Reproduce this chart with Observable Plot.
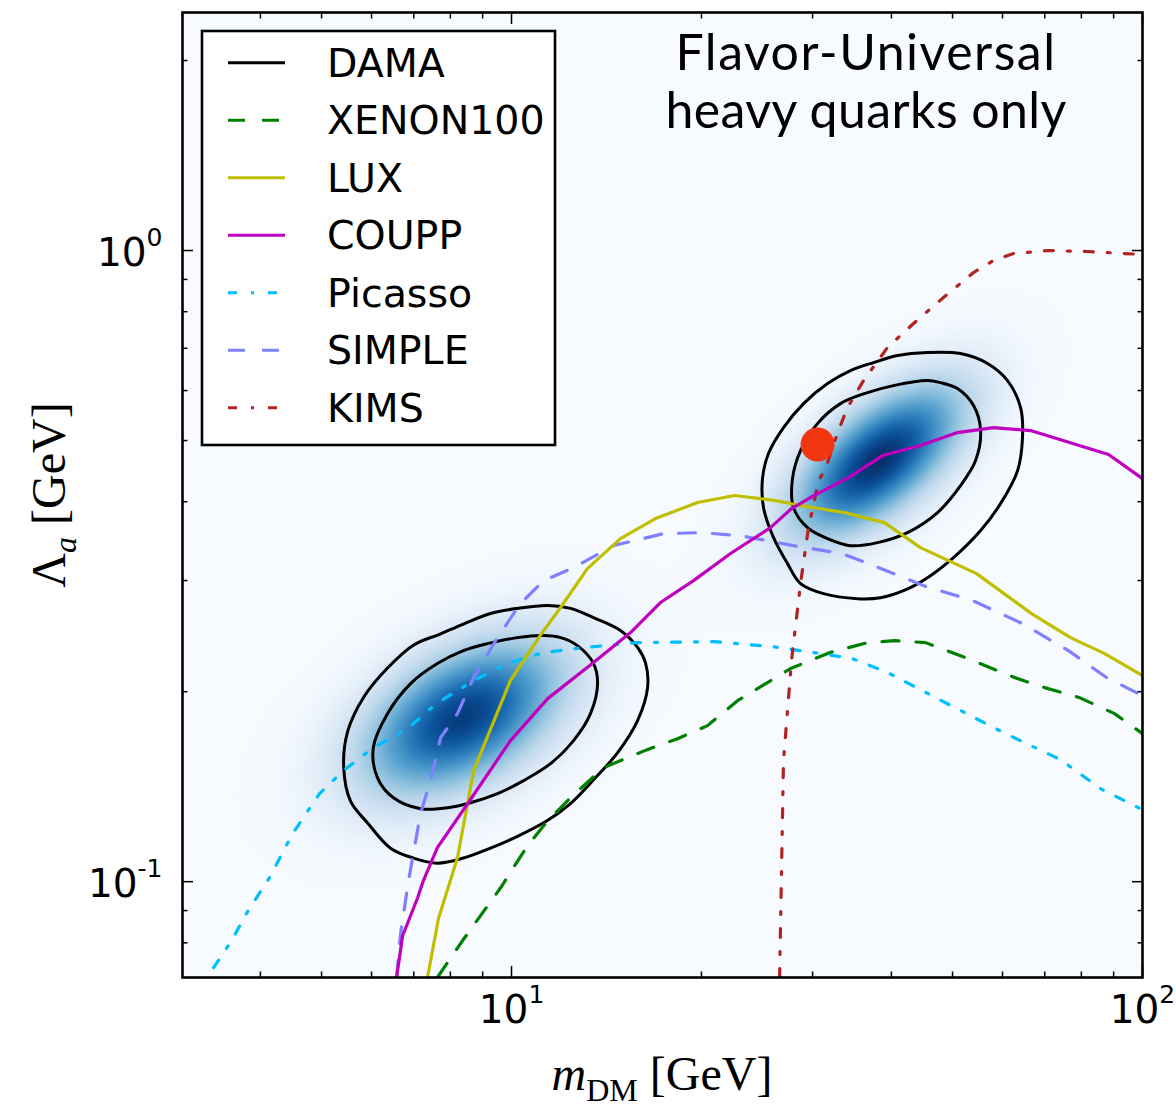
<!DOCTYPE html>
<html><head><meta charset="utf-8">
<script src="https://cdn.jsdelivr.net/npm/d3@7"></script>
<script src="https://cdn.jsdelivr.net/npm/@observablehq/plot@0.6"></script>
<style>
body{margin:0;background:#fff;}
#wrap{position:relative;width:1176px;height:1107px;overflow:hidden;}
#wrap svg{position:absolute;left:0;top:0;}
</style></head><body><div id="wrap"></div>
<script>
// ---- axes ----
const xDomain = [3.01, 100];
const yDomain = [0.0705, 2.383];
const xMajor = [10, 100];
const xMinor = [4, 5, 6, 7, 8, 9, 20, 30, 40, 50, 60, 70, 80, 90];
const yMajor = [0.1, 1];
const yMinor = [0.08, 0.09, 0.2, 0.3, 0.4, 0.5, 0.6, 0.7, 0.8, 0.9, 2];
const xTickLabels = ["10^1", "10^2"];
const yTickLabels = ["10^-1", "10^0"];

// ---- limit curves [m_DM (GeV), Lambda_a (GeV)] ----
const xenon100 = [[7.63,0.0705],[8.36,0.0806],[9.61,0.0978],[10.6,0.114],[11.41,0.1249],[12.4,0.1358],[13.99,0.1516],[16.25,0.1613],[18.33,0.1685],[20.45,0.1767],[22.81,0.1935],[27.68,0.2176],[31.92,0.2306],[36.66,0.2392],[40.46,0.2409],[45.3,0.2392],[51.47,0.2281],[62.68,0.2106],[69.94,0.2030],[79.47,0.1957],[90.3,0.1846],[100,0.1716]];
const lux = [[7.36,0.0705],[7.66,0.0874],[8.0,0.1004],[8.21,0.1091],[8.71,0.150],[9.96,0.2083],[11.1,0.2454],[11.96,0.2719],[13.19,0.3133],[14.88,0.3496],[16.91,0.3761],[19.72,0.3988],[22.57,0.4091],[26.21,0.4016],[28.71,0.3944],[33.71,0.3844],[39.0,0.3706],[44.48,0.3383],[54.58,0.3077],[66.7,0.2659],[76.9,0.2436],[87.1,0.2298],[100,0.2121]];
const coupp = [[6.574,0.0705],[6.72,0.0821],[7.10,0.0943],[7.25,0.1004],[7.63,0.1132],[8.52,0.1329],[9.96,0.1673],[11.41,0.195],[13.49,0.2224],[15.44,0.2481],[17.22,0.2769],[19.43,0.2999],[22.24,0.3311],[25.73,0.3639],[27.78,0.3901],[29.77,0.4061],[34.2,0.4368],[38.73,0.4733],[44.48,0.4909],[50.9,0.5147],[58.06,0.5242],[66.45,0.5185],[88.35,0.4751],[100,0.4351]];
const picasso = [[3.372,0.0731],[3.60,0.0806],[3.80,0.089],[4.135,0.1015],[4.497,0.1191],[4.963,0.1379],[5.417,0.150],[6.044,0.1631],[6.843,0.1748],[7.63,0.1921],[8.71,0.2083],[9.85,0.2216],[11.24,0.2306],[13.0,0.2349],[15.84,0.2392],[20.97,0.2401],[25.82,0.2358],[30.99,0.2298],[34.7,0.2256],[39.44,0.2145],[48.73,0.1921],[60.66,0.1716],[74.14,0.1561],[85.8,0.1404],[100,0.13]];
const simple = [[6.574,0.0705],[6.67,0.0827],[6.868,0.1004],[7.175,0.1282],[7.44,0.1446],[7.72,0.1691],[8.21,0.1846],[8.71,0.2106],[9.50,0.2436],[10.33,0.2758],[11.24,0.2999],[12.54,0.3145],[14.5,0.3407],[17.41,0.356],[19.93,0.3573],[23.06,0.3534],[27.98,0.3407],[33.34,0.3311],[37.48,0.3168],[44.97,0.2945],[53.79,0.2789],[64.54,0.2563],[76.33,0.2323],[87.7,0.2106],[100,0.1971]];
const kims = [[26.6,0.0705],[26.98,0.1555],[27.78,0.224],[28.71,0.2967],[29.56,0.3639],[30.66,0.4319],[31.46,0.4513],[32.87,0.5147],[34.08,0.5639],[36.13,0.6223],[39.44,0.7022],[43.36,0.7662],[48.37,0.8425],[53.98,0.9229],[58.06,0.9642],[62.45,0.989],[70.7,1.0],[81.8,0.9964],[100,0.9855]];

// ---- DAMA regions (contours) ----
const damaLowOuter = [[11.4,0.274],[10.22,0.271],[9.26,0.266],[8.39,0.256],[7.72,0.247],[6.99,0.237],[6.36,0.218],[5.83,0.196],[5.50,0.173],[5.42,0.152],[5.56,0.134],[5.91,0.124],[6.43,0.113],[6.99,0.109],[7.63,0.107],[8.39,0.109],[9.26,0.113],[10.22,0.118],[11.4,0.125],[12.4,0.133],[13.49,0.145],[14.72,0.160],[15.84,0.180],[16.43,0.203],[16.31,0.222],[15.84,0.235],[14.88,0.250],[13.49,0.262],[12.4,0.271]];
const damaLowInner = [[11.24,0.2454],[10.22,0.2436],[9.16,0.2383],[8.39,0.2323],[7.63,0.2216],[6.92,0.206],[6.36,0.1846],[6.04,0.1631],[6.13,0.1462],[6.50,0.1358],[7.175,0.1305],[7.92,0.131],[8.61,0.1334],[9.50,0.1379],[10.45,0.1446],[11.53,0.1538],[12.54,0.1673],[13.34,0.1846],[13.69,0.206],[13.49,0.2216],[12.72,0.2366],[11.96,0.2436]];
const damaHighInner = [[45.63,0.6223],[40.31,0.6109],[36.66,0.5956],[33.21,0.5721],[30.54,0.5318],[28.71,0.482],[27.88,0.4351],[27.98,0.3915],[29.45,0.3639],[31.68,0.3496],[34.45,0.3407],[38.02,0.3445],[42.42,0.3573],[47.33,0.3844],[51.47,0.4242],[54.38,0.4648],[55.39,0.5185],[53.98,0.568],[50.9,0.6044],[47.85,0.6176]];
const damaHighOuter = [[45.63,0.6894],[40.9,0.6818],[37.48,0.6645],[34.45,0.6454],[31.68,0.6155],[29.03,0.5721],[26.98,0.5242],[25.54,0.4768],[24.99,0.4351],[25.08,0.3915],[26.02,0.3509],[27.38,0.3191],[28.71,0.2967],[31.22,0.286],[35.34,0.2808],[38.44,0.2818],[41.8,0.2891],[45.63,0.3032],[50.18,0.3262],[55.39,0.36],[59.57,0.3972],[63.39,0.448],[64.54,0.5055],[64.09,0.5639],[61.1,0.6223],[56.8,0.6622],[51.47,0.6866]];
// DAMA density peaks (centre, orientation, spread in decades)
const damaPeakMass = [8.36, 38.15];
const damaPeakLambda = [0.182, 0.4648];
const damaPeakAngleDeg = [30, 40];
const damaSpreadMajor = [0.12, 0.112];
const damaSpreadMinor = [0.068, 0.053];
const damaPeakLevel = [0.95, 1.0];

// best-fit point
const bestFit = [[30.55, 0.4927]];

const legendNames = ["DAMA", "XENON100", "LUX", "COUPP", "Picasso", "SIMPLE", "KIMS"];
const titleLines = ["Flavor-Universal", "heavy quarks only"];

// ---- styles ----
const styles = {
  DAMA: {stroke: "#000000", dash: null},
  XENON100: {stroke: "#008000", dash: "17,17"},
  LUX: {stroke: "#bfbf00", dash: null},
  COUPP: {stroke: "#bf00bf", dash: null},
  Picasso: {stroke: "#00bfff", dash: "9,14,3,14"},
  SIMPLE: {stroke: "#8080ff", dash: "17,17"},
  KIMS: {stroke: "#b22222", dash: "9,14,3,14"}
};

function density(m, l) {
  let v = 0;
  for (let i = 0; i < damaPeakMass.length; i++) {
    const u = Math.log10(m) - Math.log10(damaPeakMass[i]);
    const w = Math.log10(l) - Math.log10(damaPeakLambda[i]);
    const t = damaPeakAngleDeg[i] * Math.PI / 180;
    const a = (u * Math.cos(t) + w * Math.sin(t)) / damaSpreadMajor[i];
    const b = (-u * Math.sin(t) + w * Math.cos(t)) / damaSpreadMinor[i];
    v += damaPeakLevel[i] * Math.exp(-(a * a + b * b) / 2);
  }
  return v;
}

const lineMark = (data, name, extra = {}) => Plot.line(data, {
  x: d => d[0], y: d => d[1],
  stroke: styles[name].stroke, strokeWidth: 3.2,
  strokeDasharray: styles[name].dash || undefined,
  clip: true, ...extra
});

const tickCommon = {stroke: "black", strokeWidth: 1.5, fill: "none", label: null};

const chart = Plot.plot({
  width: 1176, height: 1107,
  marginLeft: 182, marginRight: 34, marginTop: 12, marginBottom: 130,
  x: {type: "log", domain: xDomain, label: null},
  y: {type: "log", domain: yDomain, label: null},
  color: {type: "linear", scheme: "blues", domain: [0, 1], clamp: true},
  style: {fontFamily: "DejaVu Sans", background: "white", color: "black", overflow: "visible"},
  marks: [
    Plot.raster({fill: density, x1: xDomain[0], x2: xDomain[1], y1: yDomain[0], y2: yDomain[1], pixelSize: 1}),
    lineMark(damaLowOuter, "DAMA", {curve: "catmull-rom-closed", strokeWidth: 3}),
    lineMark(damaLowInner, "DAMA", {curve: "catmull-rom-closed", strokeWidth: 3}),
    lineMark(damaHighOuter, "DAMA", {curve: "catmull-rom-closed", strokeWidth: 3}),
    lineMark(damaHighInner, "DAMA", {curve: "catmull-rom-closed", strokeWidth: 3}),
    lineMark(xenon100, "XENON100"),
    lineMark(picasso, "Picasso"),
    lineMark(simple, "SIMPLE"),
    lineMark(kims, "KIMS"),
    lineMark(lux, "LUX"),
    lineMark(coupp, "COUPP"),
    Plot.dot(bestFit, {x: d => d[0], y: d => d[1], r: 17, fill: "#f2360f", stroke: null}),
    // inward ticks on all four sides
    Plot.axisX(xMajor, {anchor: "bottom", tickSize: 11, dy: -11, ...tickCommon}),
    Plot.axisX(xMinor, {anchor: "bottom", tickSize: 5.5, dy: -5.5, ...tickCommon}),
    Plot.axisX(xMajor, {anchor: "top", tickSize: 11, dy: 11, ...tickCommon}),
    Plot.axisX(xMinor, {anchor: "top", tickSize: 5.5, dy: 5.5, ...tickCommon}),
    Plot.axisY(yMajor, {anchor: "left", tickSize: 11, dx: 11, ...tickCommon}),
    Plot.axisY(yMinor, {anchor: "left", tickSize: 5.5, dx: 5.5, ...tickCommon}),
    Plot.axisY(yMajor, {anchor: "right", tickSize: 11, dx: -11, ...tickCommon}),
    Plot.axisY(yMinor, {anchor: "right", tickSize: 5.5, dx: -5.5, ...tickCommon}),
    // tick labels
    Plot.axisX(xMajor, {anchor: "bottom", tickSize: 0, tickPadding: 18, fontSize: 39, fill: "black",
      tickFormat: d => xTickLabels[xMajor.indexOf(d)], label: null}),
    Plot.axisY(yMajor, {anchor: "left", tickSize: 0, tickPadding: 20, fontSize: 39, fill: "black", dy: 3,
      tickFormat: d => yTickLabels[yMajor.indexOf(d)], label: null}),
    Plot.frame({stroke: "black", strokeWidth: 2.6})
  ]
});

document.getElementById("wrap").appendChild(chart);

// superscript exponents in tick labels
const NS = "http://www.w3.org/2000/svg";
d3.select(chart).selectAll('g[aria-label="x-axis tick label"] text, g[aria-label="y-axis tick label"] text').each(function () {
  const s = this.textContent;
  if (!s.includes("^")) return;
  const [base, exp] = s.split("^");
  this.textContent = base;
  const t = document.createElementNS(NS, "tspan");
  t.setAttribute("dy", "-20");
  t.setAttribute("font-size", "25");
  t.textContent = exp;
  this.appendChild(t);
});

// overlay: legend, title, axis labels
const ov = d3.select("#wrap").append("svg").attr("width", 1176).attr("height", 1107)
  .style("pointer-events", "none");

const lg = ov.append("g");
lg.append("rect").attr("x", 202).attr("y", 31).attr("width", 353).attr("height", 414)
  .attr("fill", "white").attr("stroke", "black").attr("stroke-width", 2.6);
legendNames.forEach((name, i) => {
  const yy = 62.7 + 57.5 * i;
  lg.append("line").attr("x1", 228).attr("x2", 285).attr("y1", yy).attr("y2", yy)
    .attr("stroke", styles[name].stroke).attr("stroke-width", 3)
    .attr("stroke-dasharray", styles[name].dash);
  lg.append("text").attr("x", 327).attr("y", yy + 14)
    .style("font-family", "DejaVu Sans").style("font-size", "39.5px").attr("fill", "black").text(name);
});

const titleSpacing = ["1.5px", "0.4px"];
titleLines.forEach((s, i) => {
  ov.append("text").attr("x", 866).attr("y", 70 + 58 * i).attr("text-anchor", "middle")
    .style("font-family", "Lato").style("font-size", "50px").style("letter-spacing", titleSpacing[i])
    .attr("fill", "black").text(s);
});

const xl = ov.append("text").attr("x", 662).attr("y", 1090).attr("text-anchor", "middle")
  .style("font-family", "Liberation Serif").style("font-size", "48px").attr("fill", "black");
xl.append("tspan").style("font-style", "italic").text("m");
xl.append("tspan").attr("dy", 11).style("font-size", "32px").text("DM");
xl.append("tspan").attr("dy", -11).text(" [GeV]");

const yl = ov.append("text").attr("transform", "translate(65,495) rotate(-90)").attr("text-anchor", "middle")
  .style("font-family", "Liberation Serif").style("font-size", "48px").attr("fill", "black");
yl.append("tspan").text("Λ");
yl.append("tspan").attr("dy", 11).style("font-size", "32px").style("font-style", "italic").text("a");
yl.append("tspan").attr("dy", -11).text("  [GeV]");
</script></body></html>
